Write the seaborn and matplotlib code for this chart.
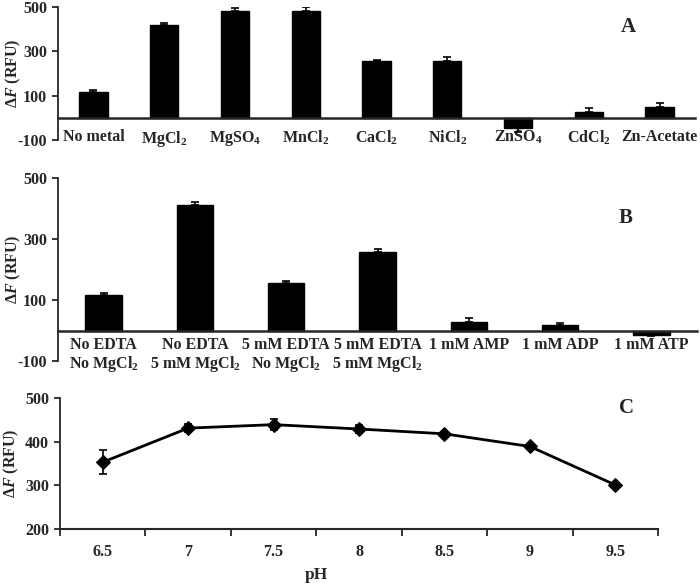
import matplotlib
matplotlib.use("Agg")
import matplotlib.pyplot as plt
import seaborn as sns
import numpy as np
import pandas as pd

# ---- data ----
metals = ["No metal", "MgCl$_2$", "MgSO$_4$", "MnCl$_2$", "CaCl$_2$", "NiCl$_2$",
          "ZnSO$_4$", "CdCl$_2$", "Zn-Acetate"]
metal_vals = [115, 418, 480, 483, 256, 258, -47, 25, 50]
metal_errs = [10, 8, 14, 15, 5, 18, 18, 18, 15]

conds = ["No EDTA\nNo MgCl$_2$", "No EDTA\n5 mM MgCl$_2$", "5 mM EDTA\nNo MgCl$_2$",
         "5 mM EDTA\n5 mM MgCl$_2$", "1 mM AMP", "1 mM ADP", "1 mM ATP"]
cond_vals = [117, 412, 156, 257, 27, 19, -14]
cond_errs = [7, 8, 7, 11, 13, 7, 3]

ph_labels = ["6.5", "7", "7.5", "8", "8.5", "9", "9.5"]
ph_vals = [353, 431, 439, 429, 418, 389, 301]
ph_errs = [27, 10, 12, 10, 5, 5, 3]

# ---- style ----
sns.set_style("ticks")
plt.rcParams["font.family"] = ["Liberation Serif", "DejaVu Serif"]
plt.rcParams["font.weight"] = "bold"
plt.rcParams["axes.unicode_minus"] = False
plt.rcParams["mathtext.fontset"] = "custom"
plt.rcParams["mathtext.default"] = "bf"
plt.rcParams["mathtext.bf"] = "Liberation Serif:bold"
plt.rcParams["mathtext.rm"] = "Liberation Serif:bold"
plt.rcParams["mathtext.it"] = "Liberation Serif:bold:italic"

W, H = 700, 585
fig = plt.figure(figsize=(7, 5.85), dpi=100)

def px_axes(l, t, r, b):
    return fig.add_axes([l / W, 1 - b / H, (r - l) / W, (b - t) / H])

FS = 11.5
ylab = r"$\Delta\mathit{F}$ (RFU)"

def bar_panel(ax, cats, vals, errs, pad, left, width):
    df = pd.DataFrame({"cat": cats, "val": vals})
    sns.barplot(data=df, x="cat", y="val", color="black", width=0.4,
                saturation=1, ax=ax, edgecolor="black")
    x = np.arange(len(cats))
    lo = [e if v < 0 else 0 for v, e in zip(vals, errs)]
    hi = [0 if v < 0 else e for v, e in zip(vals, errs)]
    ax.errorbar(x, vals, yerr=[lo, hi], fmt="none", ecolor="black",
                elinewidth=1.2, capsize=3, capthick=1.2)
    ax.set_xlim(-0.5, len(cats) - 0.5)
    ax.set_ylim(-100, 500)
    ax.set_yticks([-100, 100, 300, 500])
    ax.spines["bottom"].set_position(("data", 0))
    ax.spines["bottom"].set_linewidth(1.8)
    ax.spines["left"].set_linewidth(1.3)
    ax.spines["top"].set_visible(False)
    ax.spines["right"].set_visible(False)
    ax.tick_params(axis="x", length=0, pad=pad, labelsize=FS)
    ax.tick_params(axis="y", length=4, width=1.3, direction="out", labelsize=FS, pad=4)
    ax.set_xlabel("")
    ax.set_ylabel(ylab, fontsize=FS, fontweight="bold")
    ax.yaxis.set_label_coords((23 - left) / width, 0.5)
    for lab in ax.get_xticklabels():
        lab.set_verticalalignment("top")
        lab.set_fontweight("bold")
        lab.set_linespacing(1.05)

axA = px_axes(58, 7, 695, 140)
bar_panel(axA, metals, metal_vals, metal_errs, pad=8, left=58, width=637)

axB = px_axes(58, 178, 697, 361)
bar_panel(axB, conds, cond_vals, cond_errs, pad=5, left=58, width=639)

axC = px_axes(60, 398, 658, 529)
dfc = pd.DataFrame({"x": np.arange(len(ph_labels)), "y": ph_vals})
sns.lineplot(data=dfc, x="x", y="y", color="black", linewidth=2, marker="D",
             markersize=7, markeredgecolor="black", ax=axC)
axC.errorbar(np.arange(len(ph_labels)), ph_vals, yerr=ph_errs, fmt="none",
             ecolor="black", elinewidth=1.2, capsize=3, capthick=1.2)
axC.set_xlim(-0.5, len(ph_labels) - 0.5)
axC.set_ylim(200, 500)
axC.set_yticks([200, 300, 400, 500])
axC.set_xticks(np.arange(len(ph_labels)))
axC.set_xticklabels(ph_labels)
axC.set_xticks(np.arange(-0.5, len(ph_labels), 1.0), minor=True)
axC.tick_params(axis="x", which="major", length=0, pad=11, labelsize=FS)
axC.tick_params(axis="x", which="minor", length=5, width=1.3, direction="out")
axC.tick_params(axis="y", length=4, width=1.3, direction="out", labelsize=FS, pad=4)
axC.spines["top"].set_visible(False)
axC.spines["right"].set_visible(False)
axC.spines["bottom"].set_linewidth(1.5)
axC.spines["left"].set_linewidth(1.3)
axC.set_xlabel("")
axC.set_ylabel(ylab, fontsize=FS, fontweight="bold")
axC.yaxis.set_label_coords((21 - 60) / 598, 0.5)
fig.text(316 / W, 1 - 575 / H, "pH", ha="center", va="center",
         fontsize=FS + 1, fontweight="bold")

for lbl, (xp, yp) in zip(["A", "B", "C"], [(628, 27), (626, 218), (627, 408)]):
    fig.text(xp / W, 1 - yp / H, lbl, ha="center", va="center",
             fontsize=15, fontweight="bold")

fig.savefig("out.png", dpi=100)
